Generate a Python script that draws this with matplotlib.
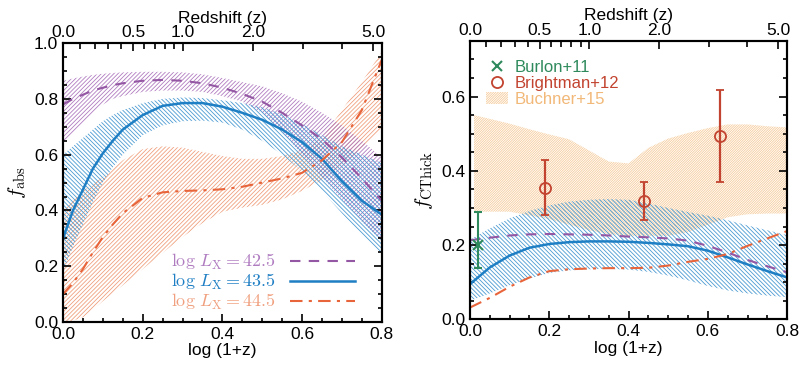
import numpy as np
import matplotlib
matplotlib.use("Agg")
import matplotlib.pyplot as plt
from matplotlib.lines import Line2D
from matplotlib.patches import Patch

plt.rcParams['font.family'] = ['Liberation Sans', 'DejaVu Sans']
plt.rcParams['mathtext.fontset'] = 'cm'
plt.rcParams['hatch.linewidth'] = 0.6

# ---- data: left panel, absorbed fraction vs log(1+z)
lz = [0.0, 0.025, 0.05, 0.075, 0.1, 0.125, 0.15, 0.2, 0.25, 0.3, 0.35, 0.4, 0.45, 0.5, 0.55, 0.6, 0.65, 0.7, 0.75, 0.8]

abs_425 = [0.78, 0.8, 0.815, 0.83, 0.84, 0.849, 0.856, 0.865, 0.868, 0.865, 0.856, 0.84, 0.818, 0.79, 0.75, 0.705, 0.655, 0.59, 0.515, 0.435]
abs_425_hi = [0.865, 0.873, 0.88, 0.886, 0.89, 0.893, 0.895, 0.897, 0.897, 0.895, 0.888, 0.875, 0.86, 0.845, 0.82, 0.79, 0.75, 0.705, 0.65, 0.59]
abs_425_lo = [0.64, 0.675, 0.71, 0.75, 0.78, 0.8, 0.81, 0.825, 0.83, 0.83, 0.825, 0.81, 0.79, 0.75, 0.68, 0.6, 0.52, 0.44, 0.36, 0.29]

abs_435 = [0.3, 0.4, 0.475, 0.55, 0.605, 0.65, 0.69, 0.742, 0.775, 0.785, 0.785, 0.772, 0.75, 0.725, 0.69, 0.645, 0.585, 0.505, 0.435, 0.385]
abs_435_hi = [0.6, 0.63, 0.66, 0.69, 0.72, 0.742, 0.76, 0.785, 0.8, 0.805, 0.803, 0.795, 0.785, 0.77, 0.745, 0.71, 0.67, 0.63, 0.6, 0.57]
abs_435_lo = [0.18, 0.27, 0.35, 0.43, 0.5, 0.555, 0.6, 0.67, 0.705, 0.72, 0.722, 0.715, 0.69, 0.65, 0.6, 0.54, 0.47, 0.39, 0.31, 0.245]

abs_445 = [0.1, 0.14, 0.19, 0.25, 0.305, 0.35, 0.39, 0.445, 0.465, 0.47, 0.472, 0.476, 0.485, 0.5, 0.515, 0.535, 0.58, 0.645, 0.76, 0.94]
abs_445_hi = [0.4, 0.44, 0.47, 0.495, 0.52, 0.55, 0.58, 0.62, 0.63, 0.625, 0.61, 0.595, 0.585, 0.585, 0.595, 0.615, 0.66, 0.76, 0.86, 0.97]
abs_445_lo = [0.0, 0.005, 0.017, 0.045, 0.075, 0.103, 0.132, 0.19, 0.248, 0.305, 0.355, 0.395, 0.41, 0.42, 0.44, 0.47, 0.51, 0.56, 0.62, 0.69]

# ---- data: right panel, Compton-thick fraction
rz = [0.0, 0.05, 0.1, 0.15, 0.2, 0.25, 0.3, 0.35, 0.4, 0.45, 0.5, 0.55, 0.6, 0.65, 0.7, 0.75, 0.8]
ct_425 = [0.213, 0.22, 0.226, 0.229, 0.23, 0.229, 0.228, 0.226, 0.223, 0.221, 0.218, 0.212, 0.198, 0.18, 0.16, 0.143, 0.127]
ct_435 = [0.095, 0.14, 0.172, 0.193, 0.203, 0.208, 0.21, 0.21, 0.209, 0.206, 0.202, 0.197, 0.185, 0.167, 0.148, 0.13, 0.113]
ct_435_hi = [0.215, 0.245, 0.272, 0.292, 0.307, 0.317, 0.322, 0.324, 0.322, 0.312, 0.3, 0.289, 0.279, 0.267, 0.253, 0.24, 0.227]
ct_435_lo = [0.05, 0.07, 0.092, 0.11, 0.125, 0.132, 0.135, 0.136, 0.134, 0.128, 0.118, 0.105, 0.09, 0.078, 0.07, 0.064, 0.06]
ct_445 = [0.032, 0.058, 0.088, 0.113, 0.13, 0.135, 0.137, 0.138, 0.138, 0.139, 0.145, 0.155, 0.163, 0.176, 0.198, 0.218, 0.238]

buch_x = [0.01, 0.05, 0.1, 0.15, 0.2, 0.25, 0.3, 0.35, 0.4, 0.45, 0.5, 0.55, 0.6, 0.65, 0.7, 0.75, 0.8]
buch_hi = [0.55, 0.54, 0.527, 0.512, 0.498, 0.485, 0.455, 0.425, 0.42, 0.462, 0.487, 0.502, 0.515, 0.525, 0.525, 0.52, 0.517]
buch_lo = [0.29, 0.29, 0.29, 0.28, 0.27, 0.255, 0.24, 0.23, 0.225, 0.225, 0.225, 0.235, 0.255, 0.275, 0.283, 0.285, 0.285]

burlon_x = [0.02]
burlon_y = [0.2]
burlon_lo = [0.138]
burlon_hi = [0.29]

bright_x = [0.19, 0.44, 0.63]
bright_y = [0.355, 0.32, 0.495]
bright_lo = [0.28, 0.268, 0.37]
bright_hi = [0.43, 0.37, 0.618]

z_major = [0.0, 0.5, 1.0, 2.0, 5.0]
z_minor = [0.1, 0.2, 0.3, 0.4, 0.6, 0.7, 0.8, 0.9, 3.0, 4.0]

lum_labels = [r'$\log\,L_{\rm X}=42.5$', r'$\log\,L_{\rm X}=43.5$', r'$\log\,L_{\rm X}=44.5$']

# colours
c_pur = '#9457a3'
c_pur_h = '#b07cc0'
c_blu = '#1f7fc4'
c_blu_h = '#4a9ad2'
c_ora = '#e8643a'
c_ora_h = '#f0a07f'
c_buch = '#f6cc9c'
c_grn = '#2e8a5c'
c_red = '#c2432f'

BAND = '/' * 8
BAND_R = '\\' * 8
DENSE = '/' * 14


def style_axes(ax, ylim, ymaj):
    ax.set_xlim(0, 0.8)
    ax.set_ylim(*ylim)
    ax.set_xticks(np.arange(0, 0.81, 0.2))
    ax.set_xticks(np.arange(0, 0.81, 0.05), minor=True)
    ax.set_yticks(ymaj)
    ax.set_yticks(np.arange(0, ylim[1] + 0.001, 0.05), minor=True)
    ax.xaxis.set_major_formatter(plt.FormatStrFormatter('%.1f'))
    ax.yaxis.set_major_formatter(plt.FormatStrFormatter('%.1f'))
    ax.tick_params(which='both', direction='in', top=False, right=True, width=1.2, labelsize=12.5)
    ax.tick_params(which='major', length=6)
    ax.tick_params(which='minor', length=3)
    for s in ax.spines.values():
        s.set_linewidth(1.5)
    ax.set_xlabel('log (1+z)', fontsize=12.5, labelpad=1)

    axt = ax.twiny()
    axt.set_xlim(0, 0.8)
    axt.set_xticks(np.log10(1 + np.array(z_major)))
    axt.set_xticklabels(['%.1f' % z for z in z_major])
    axt.set_xticks(np.log10(1 + np.array(z_minor)), minor=True)
    axt.tick_params(which='both', direction='in', width=1.2, labelsize=12.5, pad=2)
    axt.tick_params(which='major', length=6)
    axt.tick_params(which='minor', length=4)
    axt.set_xlabel('Redshift (z)', fontsize=12.5, labelpad=2)
    for s in axt.spines.values():
        s.set_linewidth(1.5)
    return axt


fig = plt.figure(figsize=(8.09, 3.78), dpi=100)

# ---------------- left panel
ax1 = fig.add_axes([0.0779, 0.148, 0.394, 0.738])
ax1.fill_between(lz, abs_445_lo, abs_445_hi, facecolor='none', edgecolor=c_ora_h, linewidth=0, hatch=BAND)
ax1.fill_between(lz, abs_425_lo, abs_425_hi, facecolor='none', edgecolor=c_pur_h, linewidth=0, hatch=BAND)
ax1.fill_between(lz, abs_435_lo, abs_435_hi, facecolor='none', edgecolor=c_blu_h, linewidth=0, hatch=BAND_R)
l1, = ax1.plot(lz, abs_425, color=c_pur, lw=1.5, ls=(0, (5, 4)))
l2, = ax1.plot(lz, abs_435, color=c_blu, lw=1.8, ls='-')
l3, = ax1.plot(lz, abs_445, color=c_ora, lw=1.5, ls=(0, (6, 3, 1.5, 3)))
style_axes(ax1, (0, 1.0), np.arange(0, 1.01, 0.2))
ax1.set_ylabel(r'$f_{\rm abs}$', fontsize=15, labelpad=4)
ax1.legend([l1, l2, l3], lum_labels, loc='lower right', bbox_to_anchor=(0.94, 0.01),
           frameon=False, markerfirst=False, fontsize=13, handlelength=3.6,
           labelspacing=0.0, handletextpad=0.8, borderaxespad=0,
           labelcolor=[c_pur_h, c_blu, c_ora_h])

# ---------------- right panel
ax2 = fig.add_axes([0.581, 0.155, 0.392, 0.737])
ax2.fill_between(buch_x, buch_lo, buch_hi, facecolor='none', edgecolor=c_buch, linewidth=0, hatch=DENSE)
ax2.fill_between(rz, ct_435_lo, ct_435_hi, facecolor='none', edgecolor=c_blu_h, linewidth=0, hatch=BAND_R)
ax2.plot(rz, ct_425, color=c_pur, lw=1.5, ls=(0, (5, 4)))
ax2.plot(rz, ct_435, color=c_blu, lw=1.8, ls='-')
ax2.plot(rz, ct_445, color=c_ora, lw=1.5, ls=(0, (6, 3, 1.5, 3)))

by = np.array(burlon_y)
ax2.errorbar(burlon_x, burlon_y, yerr=[by - np.array(burlon_lo), np.array(burlon_hi) - by],
             fmt='x', color=c_grn, ms=7, mew=1.5, elinewidth=1.5, capsize=3, capthick=1.2)
bry = np.array(bright_y)
ax2.errorbar(bright_x, bright_y, yerr=[bry - np.array(bright_lo), np.array(bright_hi) - bry],
             fmt='o', color=c_red, mfc='none', ms=8, mew=1.3, elinewidth=1.6, capsize=3, capthick=1.2)

style_axes(ax2, (0, 0.75), np.arange(0, 0.61, 0.2))
ax2.set_ylabel(r'$f_{\rm CThick}$', fontsize=15, labelpad=4)

h_burl = Line2D([], [], marker='x', ls='none', color=c_grn, ms=7, mew=1.5)
h_brig = Line2D([], [], marker='o', ls='none', color=c_red, mfc='none', ms=8, mew=1.3)
h_buch = Patch(facecolor='none', edgecolor=c_buch, hatch=DENSE, linewidth=0)
ax2.legend([h_burl, h_brig, h_buch], ['Burlon+11', 'Brightman+12', 'Buchner+15'],
           loc='upper left', bbox_to_anchor=(0.03, 0.955), frameon=False, fontsize=12,
           handlelength=1.3, handletextpad=0.4, labelspacing=0.05, borderaxespad=0,
           labelcolor=[c_grn, c_red, '#f2b878'])

fig.savefig('out.png', dpi=100)
